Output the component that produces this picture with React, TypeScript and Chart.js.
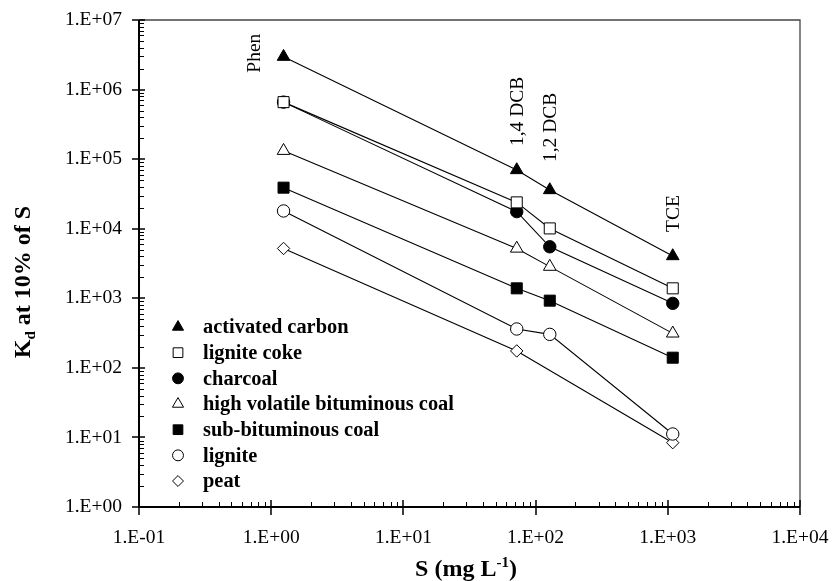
import React, { useEffect, useRef } from "react";
import { Chart, registerables } from "chart.js";
import { drawPoint } from "chart.js/helpers";

Chart.register(...registerables);

// ---- data ----
const compounds = ["Phen", "1,4 DCB", "1,2 DCB", "TCE"];
const solubility = [1.24, 72, 128, 1090]; // S (mg/L)

const seriesNames = [
  "activated carbon",
  "lignite coke",
  "charcoal",
  "high volatile bituminous coal",
  "sub-bituminous coal",
  "lignite",
  "peat",
];

const activatedCarbon = [2.97e6, 6.98e4, 3.6e4, 4.05e3];
const ligniteCoke = [6.6e5, 2.39e4, 1.01e4, 1.39e3];
const charcoal = [6.6e5, 1.76e4, 5.5e3, 845];
const hvBituminous = [1.32e5, 5.2e3, 2.85e3, 313];
const subBituminous = [3.89e4, 1.39e3, 925, 140];
const lignite = [1.8e4, 362, 303, 11.2];
const peat: (number | null)[] = [5.2e3, 175, null, 8.4];

const seriesValues: (number | null)[][] = [
  activatedCarbon,
  ligniteCoke,
  charcoal,
  hvBituminous,
  subBituminous,
  lignite,
  peat,
];

const xTicks = [0.1, 1, 10, 100, 1000, 10000];
const yTicks = [1, 10, 100, 1e3, 1e4, 1e5, 1e6, 1e7];

// ---- styles ----
const markerStyles = ["triangle", "rect", "circle", "triangle", "rect", "circle", "rectRot"];
const markerFilled = [true, false, true, false, true, false, false];

const SERIF = "'Times New Roman', 'Liberation Serif', serif";

function radiusFor(style: string) {
  if (style === "triangle") return 7.3;
  if (style === "rect") return 7.8;
  if (style === "circle") return 6.2;
  return 6.2;
}

function fmtExp(v: number) {
  const e = Math.round(Math.log10(v));
  const sign = e < 0 ? "-" : "+";
  const a = Math.abs(e);
  return "1.E" + sign + (a < 10 ? "0" + a : "" + a);
}

function zeroPadding(s: any) {
  s.paddingTop = 0;
  s.paddingBottom = 0;
  s.paddingLeft = 0;
  s.paddingRight = 0;
}

const framePlugin = {
  id: "frame",
  beforeDatasetsDraw(chart: any) {
    const { ctx, chartArea } = chart;
    const { left, right, top, bottom } = chartArea;
    const xs = chart.scales.x;
    const ys = chart.scales.y;
    ctx.save();
    // top/right frame
    ctx.strokeStyle = "#444";
    ctx.lineWidth = 1.3;
    ctx.beginPath();
    ctx.moveTo(left, top);
    ctx.lineTo(right, top);
    ctx.lineTo(right, bottom);
    ctx.stroke();

    ctx.strokeStyle = "#000";
    ctx.lineWidth = 1;
    // minor ticks
    ctx.beginPath();
    for (let d = -1; d < 4; d++) {
      for (let k = 2; k <= 9; k++) {
        const px = Math.round(xs.getPixelForValue(k * Math.pow(10, d))) + 0.5;
        ctx.moveTo(px, bottom);
        ctx.lineTo(px, bottom - 5);
      }
    }
    for (let d = 0; d < 7; d++) {
      for (let k = 2; k <= 9; k++) {
        const py = Math.round(ys.getPixelForValue(k * Math.pow(10, d))) + 0.5;
        ctx.moveTo(left, py);
        ctx.lineTo(left + 5, py);
      }
    }
    ctx.stroke();
    // major ticks
    ctx.lineWidth = 1.5;
    ctx.beginPath();
    xTicks.forEach((v) => {
      const px = Math.round(xs.getPixelForValue(v));
      ctx.moveTo(px, bottom - 7);
      ctx.lineTo(px, bottom + 8);
    });
    yTicks.forEach((v) => {
      const py = Math.round(ys.getPixelForValue(v));
      ctx.moveTo(left - 7, py);
      ctx.lineTo(left + 6, py);
    });
    ctx.stroke();
    // axes
    ctx.lineWidth = 2;
    ctx.beginPath();
    ctx.moveTo(left, top);
    ctx.lineTo(left, bottom);
    ctx.lineTo(right, bottom);
    ctx.stroke();
    ctx.restore();
  },
  afterDraw(chart: any) {
    const { ctx } = chart;
    const xs = chart.scales.x;
    const ys = chart.scales.y;
    ctx.save();
    ctx.fillStyle = "#000";

    // compound labels (rotated)
    ctx.font = `19.5px ${SERIF}`;
    ctx.textBaseline = "middle";
    ctx.textAlign = "left";
    compounds.forEach((name, i) => {
      const px = xs.getPixelForValue(solubility[i]);
      let topVal = 0;
      seriesValues.forEach((s) => {
        const v = s[i];
        if (v != null && v > topVal) topVal = v;
      });
      const py = ys.getPixelForValue(topVal);
      let lx = px + 1;
      let by = py - 24;
      if (i === 0) {
        lx = px - 29;
        by = py + 16;
      }
      if (i === 2) by = py - 28;
      ctx.save();
      ctx.translate(lx, by);
      ctx.rotate(-Math.PI / 2);
      ctx.fillText(name, 0, 0);
      ctx.restore();
    });

    // legend
    const lx = 178;
    const tx = 203;
    const y0 = 327;
    const dy = 25.67;
    ctx.font = `bold 20.4px ${SERIF}`;
    ctx.textAlign = "left";
    ctx.textBaseline = "middle";
    seriesNames.forEach((name, i) => {
      const y = y0 + i * dy;
      const st = markerStyles[i];
      ctx.save();
      ctx.fillStyle = markerFilled[i] ? "#000" : "#fff";
      ctx.strokeStyle = "#000";
      ctx.lineWidth = 1;
      drawPoint(ctx, { pointStyle: st, radius: radiusFor(st) * 0.88, rotation: 0, borderWidth: 1 }, lx, y);
      ctx.restore();
      ctx.fillText(name, tx, y + 1);
    });

    // x title: S (mg L^-1)
    const parts = [
      { t: "S (mg L", size: 24, dy: 0 },
      { t: "-1", size: 15, dy: -9 },
      { t: ")", size: 24, dy: 0 },
    ];
    let total = 0;
    parts.forEach((p) => {
      ctx.font = `bold ${p.size}px ${SERIF}`;
      total += ctx.measureText(p.t).width;
    });
    let cx = 466 - total / 2;
    const base = 576;
    ctx.textBaseline = "alphabetic";
    parts.forEach((p) => {
      ctx.font = `bold ${p.size}px ${SERIF}`;
      ctx.fillText(p.t, cx, base + p.dy);
      cx += ctx.measureText(p.t).width;
    });

    // y title: K_d at 10% of S
    const yparts = [
      { t: "K", size: 24, dy: 0 },
      { t: "d", size: 15, dy: 5 },
      { t: " at 10% of S", size: 24, dy: 0 },
    ];
    let ytotal = 0;
    yparts.forEach((p) => {
      ctx.font = `bold ${p.size}px ${SERIF}`;
      ytotal += ctx.measureText(p.t).width;
    });
    ctx.save();
    ctx.translate(30, 282);
    ctx.rotate(-Math.PI / 2);
    let cy = -ytotal / 2;
    yparts.forEach((p) => {
      ctx.font = `bold ${p.size}px ${SERIF}`;
      ctx.fillText(p.t, cy, p.dy);
      cy += ctx.measureText(p.t).width;
    });
    ctx.restore();
    ctx.restore();
  },
};

export default function App() {
  const ref = useRef<HTMLCanvasElement | null>(null);
  useEffect(() => {
    if (!ref.current) return;
    const datasets = seriesNames.map((name, i) => {
      const pts: { x: number; y: number }[] = [];
      seriesValues[i].forEach((v, j) => {
        if (v != null) pts.push({ x: solubility[j], y: v });
      });
      const st = markerStyles[i];
      return {
        label: name,
        data: pts,
        showLine: true,
        borderColor: "#000",
        borderWidth: 1.1,
        pointStyle: st,
        pointRadius: radiusFor(st),
        pointBackgroundColor: markerFilled[i] ? "#000" : "#fff",
        pointBorderColor: "#000",
        pointBorderWidth: 1,
        fill: false,
        tension: 0,
      };
    });
    const chart = new Chart(ref.current, {
      type: "scatter",
      data: { datasets: datasets as any },
      options: {
        responsive: false,
        animation: false,
        devicePixelRatio: 1,
        layout: { padding: { top: 20, right: 34, left: 0, bottom: 0 } },
        plugins: { legend: { display: false }, tooltip: { enabled: false } },
        scales: {
          x: {
            type: "logarithmic",
            min: 0.1,
            max: 10000,
            grid: { display: false, drawTicks: false },
            border: { display: false },
            afterBuildTicks: (s: any) => {
              s.ticks = xTicks.map((v) => ({ value: v, major: true }));
            },
            afterFit: (s: any) => {
              s.height = 74;
              zeroPadding(s);
            },
            ticks: {
              autoSkip: false,
              maxRotation: 0,
              minRotation: 0,
              padding: 19,
              color: "#000",
              font: { family: SERIF, size: 19.5 },
              callback: (v: any) => fmtExp(Number(v)),
            },
          },
          y: {
            type: "logarithmic",
            min: 1,
            max: 1e7,
            grid: { display: false, drawTicks: false },
            border: { display: false },
            afterBuildTicks: (s: any) => {
              s.ticks = yTicks.map((v) => ({ value: v, major: true }));
            },
            afterFit: (s: any) => {
              s.width = 139;
              zeroPadding(s);
            },
            ticks: {
              autoSkip: false,
              padding: 17,
              color: "#000",
              font: { family: SERIF, size: 19.5 },
              callback: (v: any) => fmtExp(Number(v)),
            },
          },
        },
      },
      plugins: [framePlugin],
    });
    return () => chart.destroy();
  }, []);
  return (
    <div style={{ position: "absolute", left: 0, top: 0, width: 834, height: 581, background: "#fff" }}>
      <canvas ref={ref} width={834} height={581} style={{ display: "block", width: 834, height: 581 }} />
    </div>
  );
}
